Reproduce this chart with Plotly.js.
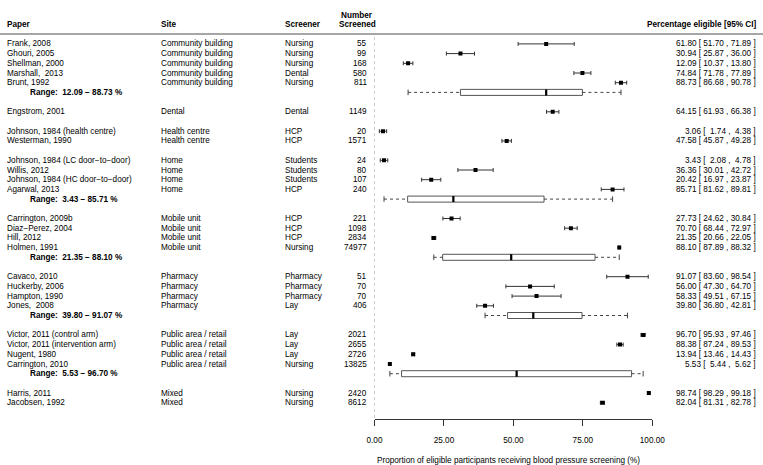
<!DOCTYPE html>
<html><head><meta charset="utf-8">
<script src="https://cdn.plot.ly/plotly-3.0.1.min.js"></script>
<style>html,body{margin:0;padding:0;background:#fff}</style>
</head><body><div id="chart" style="width:763px;height:465px"></div>
<script>
const papers = ['Frank, 2008','Ghouri, 2005','Shellman, 2000','Marshall,  2013','Brunt, 1992',
  'Engstrom, 2001','Johnson, 1984 (health centre)','Westerman, 1990',
  'Johnson, 1984 (LC door\u2212to\u2212door)','Willis, 2012','Johnson, 1984 (HC door\u2212to\u2212door)','Agarwal, 2013',
  'Carrington, 2009b','Diaz\u2212Perez, 2004','Hill, 2012','Holmen, 1991',
  'Cavaco, 2010','Huckerby, 2006','Hampton, 1990','Jones,  2008',
  'Victor, 2011 (control arm)','Victor, 2011 (intervention arm)','Nugent, 1980','Carrington, 2010',
  'Harris, 2011','Jacobsen, 1992'];
const sites = ['Community building','Community building','Community building','Community building','Community building',
  'Dental','Health centre','Health centre',
  'Home','Home','Home','Home',
  'Mobile unit','Mobile unit','Mobile unit','Mobile unit',
  'Pharmacy','Pharmacy','Pharmacy','Pharmacy',
  'Public area / retail','Public area / retail','Public area / retail','Public area / retail',
  'Mixed','Mixed'];
const screeners = ['Nursing','Nursing','Nursing','Dental','Nursing',
  'Dental','HCP','HCP',
  'Students','Students','Students','HCP',
  'HCP','HCP','HCP','Nursing',
  'Pharmacy','Pharmacy','Pharmacy','Lay',
  'Lay','Lay','Lay','Nursing',
  'Nursing','Nursing'];
const numberScreened = [55,99,168,580,811, 1149, 20,1571, 24,80,107,240, 221,1098,2834,74977, 51,70,70,406, 2021,2655,2726,13825, 2420,8612];
const estimate = [61.80,30.94,12.09,74.84,88.73, 64.15, 3.06,47.58, 3.43,36.36,20.42,85.71, 27.73,70.70,21.35,88.10, 91.07,56.00,58.33,39.80, 96.70,88.38,13.94,5.53, 98.74,82.04];
const ciLower = [51.70,25.87,10.37,71.78,86.68, 61.93, 1.74,45.87, 2.08,30.01,16.97,81.62, 24.62,68.44,20.66,87.89, 83.60,47.30,49.51,36.80, 95.93,87.24,13.46,5.44, 98.29,81.31];
const ciUpper = [71.89,36.00,13.80,77.89,90.78, 66.38, 4.38,49.28, 4.78,42.72,23.87,89.81, 30.84,72.97,22.05,88.32, 98.54,64.70,67.15,42.81, 97.46,89.53,14.43,5.62, 99.18,82.78];
const xTickValues = [0,25,50,75,100];
const xTickLabels = ['0.00','25.00','50.00','75.00','100.00'];

// ---- row layout (derived from the data order) ----
const NB = '\u00a0';
const fix = s => s.replace(/  /g, ' ' + NB);
const pad5 = v => { let s = v.toFixed(2); while (s.length < 5) s = NB + s; return s; };
const studyRow = [];
const groups = [];
let row = 0;
for (let i = 0; i < papers.length; i++) {
  if (i > 0 && sites[i] !== sites[i-1]) {
    const g = groups[groups.length-1];
    if (g.idx.length >= 3) { g.rangeRow = row; row++; }
    row++; // blank
  }
  if (i === 0 || sites[i] !== sites[i-1]) groups.push({site: sites[i], idx: []});
  groups[groups.length-1].idx.push(i);
  studyRow.push(row); row++;
}
{ const g = groups[groups.length-1]; if (g.idx.length >= 3) { g.rangeRow = row; row++; } }

function fivenum(v) {
  const s = [...v].sort((a,b)=>a-b), n = s.length;
  const n4 = Math.floor((n+3)/2)/2;
  const d = [1, n4, (n+1)/2, n+1-n4, n];
  return d.map(k => 0.5*(s[Math.floor(k)-1] + s[Math.ceil(k)-1]));
}

// pixel helpers for layout
const W = 763, H = 465, ROW0 = 43.9, DY = 9.7;
const rowOfPx = p => (p - ROW0)/DY;
const px = x => x / W;

const traces = [];
const boxHalf = 0.31;
groups.forEach(g => {
  if (g.rangeRow === undefined) return;
  const f = fivenum(g.idx.map(i => estimate[i]));
  const r = g.rangeRow;
  traces.push({type:'scatter', mode:'lines', x:[f[0],f[1],null,f[3],f[4]], y:[r,r,null,r,r],
    line:{color:'#444', width:1, dash:'3px,3px'}, hoverinfo:'skip'});
  traces.push({type:'scatter', mode:'markers', x:[f[0],f[4]], y:[r,r],
    marker:{symbol:'line-ns', size:4, line:{color:'#444', width:1}}, hoverinfo:'skip'});
  traces.push({type:'box', orientation:'h', y:[r], q1:[f[1]], median:[f[2]], q3:[f[3]],
    lowerfence:[f[1]], upperfence:[f[3]], width:boxHalf*2, whiskerwidth:0,
    fillcolor:'#ffffff', line:{color:'#555', width:1}, boxpoints:false, hoverinfo:'skip'});
  traces.push({type:'scatter', mode:'lines', x:[f[2],f[2]], y:[r-boxHalf, r+boxHalf],
    line:{color:'#000', width:2.2}, hoverinfo:'skip'});
});

traces.push({type:'scatter', mode:'markers', x:estimate, y:studyRow,
  marker:{symbol:'square', size:4, color:'#000'},
  error_x:{type:'data', symmetric:false,
    array: estimate.map((e,i)=>ciUpper[i]-e), arrayminus: estimate.map((e,i)=>e-ciLower[i]),
    color:'#333', thickness:1, width:2},
  hoverinfo:'skip'});

const FS = 8.2;
const font = {family:'Liberation Sans, Arial, sans-serif', size:FS, color:'#000'};
const bold = {family:'Liberation Sans, Arial, sans-serif', size:FS, color:'#000', weight:'bold'};
const ann = [];
function addText(text, xpx, r, anchor, f) {
  ann.push({text:text, x:px(xpx), xref:'paper', y:r, yref:'y', xanchor:anchor, yanchor:'middle',
    showarrow:false, font:f||font, borderpad:0});
}
// headers
const hr = rowOfPx(24.3);
addText('<b>Paper</b>', 6.2, hr, 'left', bold);
addText('<b>Site</b>', 159.5, hr, 'left', bold);
addText('<b>Screener</b>', 283.5, hr, 'left', bold);
addText('<b>Number</b>', 357, rowOfPx(15), 'center', bold);
addText('<b>Screened</b>', 357, hr, 'center', bold);
addText('<b>Percentage eligible [95% CI]</b>', 756.5, hr, 'right', bold);
for (let i = 0; i < papers.length; i++) {
  const r = studyRow[i];
  addText(fix(papers[i]), 6.2, r, 'left');
  addText(fix(sites[i]), 159.5, r, 'left');
  addText(fix(screeners[i]), 283.5, r, 'left');
  addText(String(numberScreened[i]), 368, r, 'right');
  addText(estimate[i].toFixed(2) + ' [ ' + pad5(ciLower[i]) + ' , ' + pad5(ciUpper[i]) + ' ]', 756.5, r, 'right');
}
groups.forEach(g => {
  if (g.rangeRow === undefined) return;
  const v = g.idx.map(i => estimate[i]);
  addText('<b>Range:' + NB + ' ' + Math.min(...v).toFixed(2) + ' \u2212 ' + Math.max(...v).toFixed(2) + ' %</b>', 29, g.rangeRow, 'left', bold);
});
ann.push({text:'Proportion of eligible participants receiving blood pressure screening (%)',
  x:px(508.5), xref:'paper', y:rowOfPx(460.7), yref:'y', xanchor:'center', yanchor:'middle',
  showarrow:false, font:font, borderpad:0});

const layout = {
  width:W, height:H, margin:{l:0,r:0,t:0,b:0}, showlegend:false,
  paper_bgcolor:'#fff', plot_bgcolor:'rgba(0,0,0,0)', boxmode:'overlay',
  font:font,
  xaxis:{domain:[374.5/W, 652.3/W], range:[0,100], anchor:'free', position:1-419.3/H,
    showline:true, linecolor:'#333', linewidth:1, ticks:'outside', ticklen:6, tickcolor:'#333', tickwidth:1,
    tickvals:xTickValues, ticktext:xTickLabels, tickfont:{family:font.family, size:FS, color:'#000'},
    ticklabelstandoff:7, showgrid:false, zeroline:false, fixedrange:true},
  yaxis:{range:[rowOfPx(H), rowOfPx(0)], domain:[0,1], visible:false, fixedrange:true},
  shapes:[
    {type:'line', xref:'paper', yref:'y', x0:0, x1:1, y0:rowOfPx(34), y1:rowOfPx(34), line:{color:'#a6a6a6', width:2}},
    {type:'line', xref:'x', yref:'y', x0:0, x1:0, y0:rowOfPx(37), y1:rowOfPx(418), line:{color:'#9a9a9a', width:1, dash:'dot'}}
  ],
  annotations:ann
};
Plotly.newPlot('chart', traces, layout, {staticPlot:true, displayModeBar:false});
</script></body></html>
